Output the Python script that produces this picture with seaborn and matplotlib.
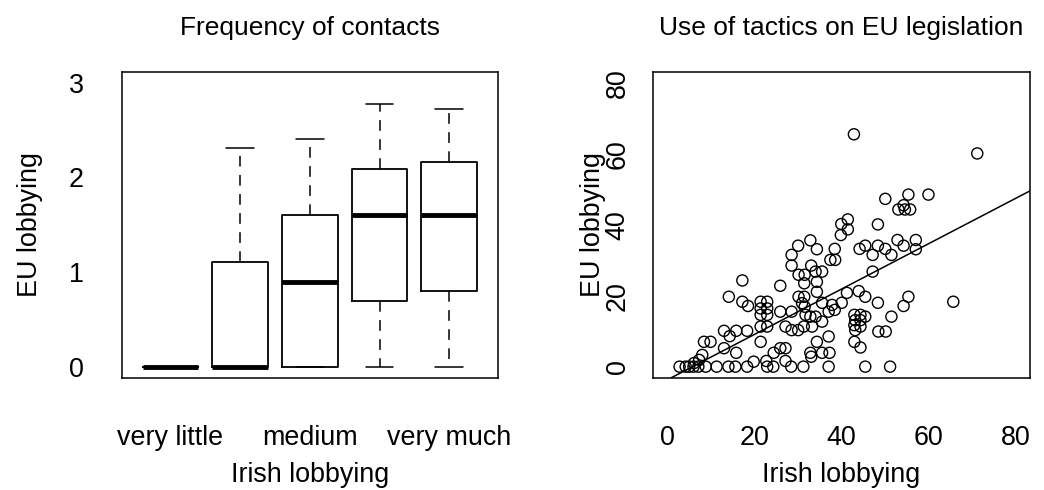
import matplotlib
matplotlib.use("Agg")
import matplotlib.pyplot as plt
import seaborn as sns
import pandas as pd

# ---------------- data ----------------
contact_levels = ["very little", "little", "medium", "much", "very much"]
shown_level_labels = ["very little", "", "medium", "", "very much"]
box_q1 = [0.0, 0.0, 0.0, 0.69, 0.80]
box_median = [0.0, 0.0, 0.90, 1.605, 1.605]
box_q3 = [0.0, 1.105, 1.605, 2.088, 2.16]
whisker_low = [0.0, 0.0, 0.0, 0.0, 0.0]
whisker_high = [0.0, 2.31, 2.41, 2.78, 2.72]

irish_x = [
    2.8, 4.2, 5.0, 6.0, 7.1, 8.8, 11.3, 14.0, 15.6, 18.3, 22.9, 24.3, 28.4, 31.2, 37.0, 45.4, 51.1,
    6.1, 7.3, 8.0, 19.8, 22.7, 27.1, 24.4, 25.9, 27.1, 15.8, 13.0, 8.4, 9.9, 21.4, 34.3, 37.0,
    32.8, 33.0, 35.5, 37.2, 42.9, 44.3,
    13.0, 14.3, 15.8, 18.3, 21.4, 22.9, 27.1, 28.5, 30.0, 31.3, 33.2, 35.5, 48.4, 50.1,
    21.4, 22.9, 21.4, 22.9, 21.4, 22.9, 25.9, 28.5, 32.8, 34.0, 37.0, 38.4, 31.5, 35.5, 40.0,
    30.1, 14.1, 17.2, 18.5, 30.9, 31.7,
    42.9, 44.3, 43.1, 44.3, 45.4, 42.9, 44.3, 43.1,
    45.4, 48.3, 51.4, 55.3, 54.2, 41.2, 43.9, 37.8, 34.3, 31.4, 65.6,
    17.2, 25.9, 30.1, 31.5, 31.4, 34.3, 33.0, 34.0, 35.5, 28.5, 28.5, 30.0, 32.8,
    34.3, 38.4, 37.4, 38.5, 47.1, 41.4, 39.9, 41.4, 39.8, 48.3,
    44.1, 45.4, 47.1, 48.3, 50.0, 51.4, 52.8, 54.2, 57.0, 57.0,
    50.0, 55.3, 59.9, 53.0, 54.2, 54.5, 55.7,
    42.8, 71.1,
]
eu_y = [
    0, 0, 0, 0, 0, 0, 0, 0, 0, 0, 0, 0, 0, 0, 0, 0, 0,
    1.0, 1.9, 3.3, 1.4, 1.6, 1.6, 3.9, 5.2, 5.2, 3.9, 5.2, 7.0, 7.0, 7.0, 7.0, 8.5,
    3.9, 2.8, 3.9, 3.9, 7.0, 5.4,
    10.1, 8.6, 10.1, 10.1, 11.3, 11.3, 11.3, 10.3, 10.3, 11.3, 11.3, 12.7, 9.9, 9.9,
    14.6, 14.6, 16.4, 16.4, 18.3, 18.3, 15.5, 15.5, 14.1, 14.1, 15.5, 16.0, 16.9, 18.0, 18.0,
    19.7, 19.7, 18.3, 17.1, 17.9, 14.6,
    14.6, 14.6, 13.1, 13.1, 14.1, 11.7, 11.3, 10.3,
    19.7, 18.0, 14.1, 19.7, 17.1, 20.8, 21.3, 17.4, 21.1, 19.7, 18.3,
    24.3, 22.8, 25.9, 25.9, 23.5, 23.9, 28.5, 26.8, 26.8, 28.5, 31.5, 34.1, 35.6,
    33.1, 33.2, 30.1, 30.1, 26.8, 41.5, 40.2, 38.7, 37.1, 40.1,
    33.2, 34.1, 31.5, 34.1, 33.2, 31.5, 35.7, 34.1, 35.7, 33.1,
    47.3, 48.5, 48.5, 44.3, 45.5, 44.3, 44.3,
    65.5, 60.1,
]
fit_intercept = -3.7
fit_slope = 0.64

left_title = "Frequency of contacts"
right_title = "Use of tactics on EU legislation"
x_label = "Irish lobbying"
y_label = "EU lobbying"

# ---------------- style ----------------
sns.set_style("white")
plt.rcParams["font.family"] = ["Liberation Sans", "DejaVu Sans"]
plt.rcParams["text.color"] = "black"
plt.rcParams["axes.labelcolor"] = "black"
plt.rcParams["axes.titlecolor"] = "black"
FS = 19.4
TFS = 19.0

fig = plt.figure(figsize=(10.44, 4.90), dpi=100)
W, H = 1044, 490
def rect(l, t, r, b):
    return [l / W, 1 - b / H, (r - l) / W, (b - t) / H]

axL = fig.add_axes(rect(121.7, 71.5, 498, 378))
axR = fig.add_axes(rect(653, 71.5, 1030, 378))

for ax in (axL, axR):
    for s in ax.spines.values():
        s.set_color("black")
        s.set_linewidth(1.1)
        s.set_visible(True)
    ax.tick_params(axis="both", direction="out", length=13, width=1.0,
                   color="black", labelsize=FS, labelcolor="black")
    ax.tick_params(axis="x", pad=21)

# ---------------- left: boxplot ----------------
stats = []
for i, lev in enumerate(contact_levels):
    stats.append(dict(label=lev, q1=box_q1[i], med=box_median[i], q3=box_q3[i],
                      whislo=whisker_low[i], whishi=whisker_high[i], fliers=[]))
positions = list(range(1, len(contact_levels) + 1))
axL.bxp(stats, positions=positions, widths=0.8, showfliers=False, patch_artist=False,
        boxprops=dict(color="black", linewidth=1.3),
        medianprops=dict(color="black", linewidth=3.5, solid_capstyle="butt"),
        whiskerprops=dict(color="black", linewidth=1.1, linestyle=(0, (7, 5.5))),
        capprops=dict(color="black", linewidth=1.1),
        capwidths=0.4)
axL.set_xlim(0.3, 5.7)
axL.set_ylim(-0.12, 3.12)
axL.set_xticks(positions)
axL.set_xticklabels(shown_level_labels)
axL.set_yticks([0, 1, 2, 3])
axL.set_yticklabels(["0", "1", "2", "3"])
axL.tick_params(axis="y", pad=14.5)

# ---------------- right: scatter ----------------
df = pd.DataFrame({"irish": irish_x, "eu": eu_y})
sns.scatterplot(data=df, x="irish", y="eu", ax=axR, marker="o", s=64,
                facecolor="none", edgecolor="black", linewidth=1.0, legend=False)
axR.axline((0, fit_intercept), slope=fit_slope, color="black", linewidth=1.1)
axR.set_xlim(-3.3, 83.2)
axR.set_ylim(-3.2, 83.2)
axR.set_xticks([0, 20, 40, 60, 80])
axR.set_yticks([0, 20, 40, 60, 80])
for lab in axR.get_yticklabels():
    lab.set_rotation(90)
    lab.set_va("center")
axR.tick_params(axis="y", pad=3)

# ---------------- labels ----------------
for ax, ylx in ((axL, -0.2437), (axR, -0.158)):
    ax.set_xlabel(x_label, fontsize=FS, va="center", color="black")
    ax.xaxis.set_label_coords(0.5, -0.315)
    ax.set_ylabel(y_label, fontsize=FS, va="center", ha="center", color="black")
    ax.yaxis.set_label_coords(ylx, 0.5)

axL.set_title(left_title, fontsize=TFS, pad=26, color="black")
axR.set_title(right_title, fontsize=TFS, pad=26, color="black")

fig.savefig("out.png", dpi=100, facecolor="white")
